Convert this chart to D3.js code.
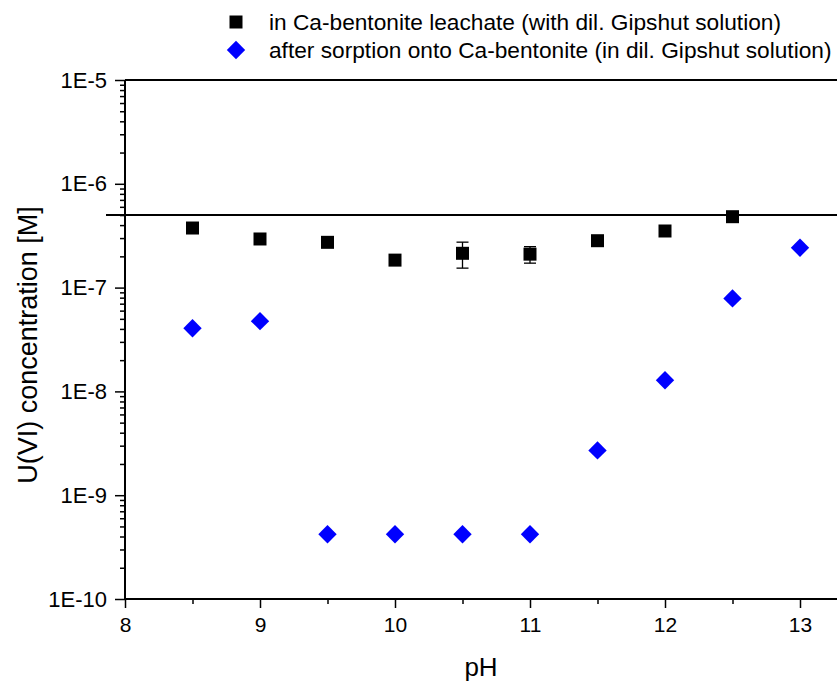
<!DOCTYPE html>
<html>
<head>
<meta charset="utf-8">
<script src="https://cdn.jsdelivr.net/npm/d3@7"></script>
<style>
  html, body { margin: 0; padding: 0; background: #fff; }
  svg text { font-family: "Liberation Sans", Arial, sans-serif; fill: #000; }
</style>
</head>
<body>
<svg id="chart" width="837" height="681"></svg>
<script>
// U(VI) concentration vs pH
const leachPH   = [8.5, 9, 9.5, 10, 10.5, 11, 11.5, 12, 12.5];
const leachConc = [3.75e-7, 2.94e-7, 2.73e-7, 1.84e-7, 2.14e-7, 2.1e-7, 2.83e-7, 3.51e-7, 4.82e-7];
const leachErr  = [0, 0, 0, 0, 0.6e-7, 0.38e-7, 0, 0, 0];

const sorbPH    = [8.5, 9, 9.5, 10, 10.5, 11, 11.5, 12, 12.5, 13];
const sorbConc  = [4.06e-8, 4.75e-8, 4.2e-10, 4.2e-10, 4.2e-10, 4.2e-10, 2.7e-9, 1.28e-8, 7.87e-8, 2.42e-7];

const refLine   = 5e-7;   // horizontal reference level

const xTicks     = [8, 9, 10, 11, 12, 13];
const xMinor     = [8.5, 9.5, 10.5, 11.5, 12.5];
const yTicks     = [1e-10, 1e-9, 1e-8, 1e-7, 1e-6, 1e-5];
const yTickNames = ["1E-10", "1E-9", "1E-8", "1E-7", "1E-6", "1E-5"];

const legendNames = [
  "in Ca-bentonite leachate (with dil. Gipshut solution)",
  "after sorption onto Ca-bentonite (in dil. Gipshut solution)"
];

const svg = d3.select("#chart");
const W = 837;
const plotLeft = 125, plotTop = 80, plotBottom = 599;

const x = d3.scaleLinear().domain([8, 13.5]).range([plotLeft, plotLeft + 5.5 * 135]);
const y = d3.scaleLog().domain([1e-10, 1e-5]).range([plotBottom, plotTop]);

// minor ticks on the log axis: 2..9 in each decade
const yMinor = [];
for (let e = -10; e < -5; e++) for (let m = 2; m <= 9; m++) yMinor.push(m * Math.pow(10, e));

// top frame line
svg.append("line")
  .attr("x1", plotLeft).attr("x2", W).attr("y1", y(1e-5)).attr("y2", y(1e-5))
  .attr("stroke", "#000").attr("stroke-width", 2);

// reference line
svg.append("line")
  .attr("x1", 106).attr("x2", W).attr("y1", y(refLine)).attr("y2", y(refLine))
  .attr("stroke", "#000").attr("stroke-width", 2);

// y axis
const yAxis = svg.append("g").attr("transform", `translate(${plotLeft},0)`)
  .call(d3.axisLeft(y).tickValues(yTicks).tickFormat((d, i) => yTickNames[i]).tickSize(10).tickPadding(8));
yAxis.select(".domain").attr("stroke-width", 2).attr("d", `M0,${plotBottom}V${plotTop}`);
yAxis.selectAll(".tick line").attr("stroke-width", 1.5);
yAxis.selectAll(".tick text").attr("font-size", 22);
const yMinorG = svg.append("g").attr("transform", `translate(${plotLeft},0)`)
  .call(d3.axisLeft(y).tickValues(yMinor).tickFormat("").tickSize(5));
yMinorG.select(".domain").remove();
yMinorG.selectAll(".tick line").attr("stroke-width", 1.5);

// x axis
const xAxis = svg.append("g").attr("transform", `translate(0,${plotBottom})`)
  .call(d3.axisBottom(x).tickValues(xTicks).tickFormat(d3.format("d")).tickSize(9).tickPadding(9));
xAxis.select(".domain").attr("stroke-width", 2).attr("d", `M${plotLeft},0H${W}`);
xAxis.selectAll(".tick line").attr("stroke-width", 1.5);
xAxis.selectAll(".tick text").attr("font-size", 21);
const xMinorG = svg.append("g").attr("transform", `translate(0,${plotBottom})`)
  .call(d3.axisBottom(x).tickValues(xMinor).tickFormat("").tickSize(5));
xMinorG.select(".domain").remove();
xMinorG.selectAll(".tick line").attr("stroke-width", 1.5);

// axis titles
svg.append("text")
  .attr("transform", `translate(28,345) rotate(-90)`)
  .attr("text-anchor", "middle").attr("dominant-baseline", "central")
  .attr("font-size", 27).text("U(VI) concentration [M]");
svg.append("text")
  .attr("x", (plotLeft + W) / 2).attr("y", 676)
  .attr("text-anchor", "middle").attr("font-size", 26).text("pH");

// error bars for the leachate series
const errG = svg.append("g").attr("stroke", "#000").attr("stroke-width", 1.3);
leachPH.forEach((p, i) => {
  if (!leachErr[i]) return;
  const cx = x(p), y1 = y(leachConc[i] + leachErr[i]), y2 = y(leachConc[i] - leachErr[i]);
  errG.append("line").attr("x1", cx).attr("x2", cx).attr("y1", y1).attr("y2", y2);
  errG.append("line").attr("x1", cx - 6).attr("x2", cx + 6).attr("y1", y1).attr("y2", y1);
  errG.append("line").attr("x1", cx - 6).attr("x2", cx + 6).attr("y1", y2).attr("y2", y2);
});

const squareSym  = d3.symbol().type(d3.symbolSquare).size(13 * 13);
const diamondSym = d3.symbol().type(d3.symbolSquare).size(13 * 13);

// leachate squares
svg.append("g").selectAll("path").data(leachPH).join("path")
  .attr("d", squareSym)
  .attr("transform", (p, i) => `translate(${x(p)},${y(leachConc[i])})`)
  .attr("fill", "#000");

// sorption diamonds
svg.append("g").selectAll("path").data(sorbPH).join("path")
  .attr("d", diamondSym)
  .attr("transform", (p, i) => `translate(${x(p)},${y(sorbConc[i])}) rotate(45)`)
  .attr("fill", "#0000ff");

// legend
const lg = svg.append("g");
lg.append("path").attr("d", squareSym).attr("transform", "translate(236,22)").attr("fill", "#000");
lg.append("path").attr("d", diamondSym).attr("transform", "translate(236,50) rotate(45)").attr("fill", "#0000ff");
lg.append("text").attr("x", 269).attr("y", 22).attr("dominant-baseline", "central")
  .attr("font-size", 22.7).text(legendNames[0]);
lg.append("text").attr("x", 269).attr("y", 50).attr("dominant-baseline", "central")
  .attr("font-size", 22.7).text(legendNames[1]);
</script>
</body>
</html>
